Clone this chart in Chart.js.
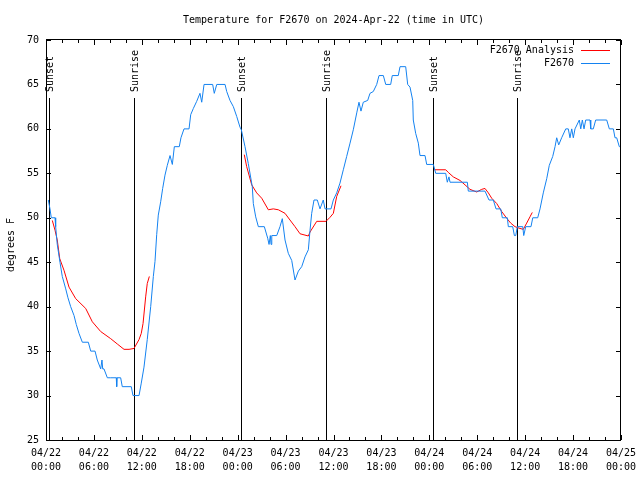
<!DOCTYPE html>
<html>
<head>
<meta charset="utf-8">
<script src="https://cdn.jsdelivr.net/npm/chart.js@4.4.1/dist/chart.umd.min.js"></script>
<style>
  body { margin: 0; background: #fff; }
  canvas { display: block; }
</style>
</head>
<body>
<canvas id="myChart" width="640" height="480"></canvas>
<script>
// hours since 04/22 00:00 UTC and temperature in degrees F
const blueHours = [0.29, 0.50, 0.66, 1.13, 1.21, 1.41, 1.75, 2.04, 2.47, 2.75, 3.09, 3.51, 3.79, 4.13, 4.55, 5.30, 5.60, 6.14, 6.42, 6.85,
  7.01, 7.10, 7.26, 7.68, 8.10, 8.80, 8.85, 8.90, 9.35, 9.55, 10.68, 10.89, 11.65, 11.93, 12.27, 12.68, 13.11, 13.44, 13.65, 13.86,
  14.06, 14.36, 14.61, 14.90, 15.19, 15.53, 15.82, 16.07, 16.69, 16.90, 17.28, 17.91, 18.12, 18.45, 18.87, 19.28, 19.50, 19.79, 20.87, 21.07,
  21.38, 22.42, 22.63, 23.04, 23.46, 23.88, 24.29, 24.46, 24.92, 25.33, 25.83, 25.96, 26.26, 26.59, 27.34, 27.76, 27.93, 28.09, 28.18, 28.27,
  28.89, 29.30, 29.59, 29.93, 30.34, 30.77, 31.18, 31.60, 32.02, 32.43, 32.85, 33.06, 33.27, 33.56, 33.97, 34.31, 34.72, 34.94, 35.69, 35.98,
  36.40, 36.81, 37.23, 37.65, 38.07, 38.48, 38.91, 39.19, 39.44, 39.73, 40.28, 40.57, 40.98, 41.41, 41.70, 42.24, 42.54, 43.16, 43.36, 44.11,
  44.33, 45.04, 45.29, 45.58, 45.92, 45.99, 46.29, 46.62, 46.83, 47.46, 47.67, 48.50, 48.80, 50.05, 50.25, 50.46, 50.59, 52.76, 52.88, 54.97,
  55.47, 56.01, 56.35, 56.94, 57.14, 57.77, 57.89, 58.44, 58.65, 58.82, 59.02, 59.70, 59.82, 60.07, 60.73, 60.95, 61.57, 61.86, 62.27, 62.70,
  63.02, 63.45, 63.74, 63.95, 64.20, 64.57, 65.08, 65.40, 65.61, 65.83, 66.03, 66.24, 66.78, 66.96, 67.16, 67.37, 67.58, 68.12, 68.21, 68.53,
  68.83, 70.21, 70.54, 71.04, 71.25, 71.46, 71.79, 72.0];
const blueTemps = [52, 51, 50, 50, 49, 47, 45, 43.4, 42, 41, 40, 39, 38, 37, 36, 36, 35, 35, 34, 33,
  34, 33, 33, 32, 32, 32, 31, 32, 32, 31, 31, 30, 30, 31.4, 33.2, 36.3, 40, 43.4, 45.1, 48.1,
  50.3, 51.8, 53.3, 54.8, 55.9, 57, 56, 58, 58, 59, 60, 60, 61.6, 62.3, 63.1, 64, 63, 65, 65, 64,
  65, 65, 64.2, 63.2, 62.5, 61.4, 60.2, 59.9, 58, 56.1, 53.5, 51.6, 50.1, 49, 49, 47.7, 47, 48, 47, 48,
  48, 49, 49.9, 47.5, 46, 45.2, 43, 44, 44.5, 45.6, 46.4, 48.6, 50.5, 52, 52, 51, 52, 51, 51, 52,
  52.8, 53.9, 55.4, 56.9, 58.4, 59.9, 61.8, 63, 62, 63, 63.2, 64, 64.2, 65, 66, 66, 65, 65, 66, 66,
  67, 67, 65, 64.7, 63.2, 61, 59.5, 58.4, 57, 57, 56, 56, 55, 55, 54, 54.6, 54, 54, 53, 53,
  52, 52, 51, 51, 50, 50, 49, 49, 48, 48, 49, 49, 48, 49, 49, 50, 50, 51, 52.8, 54.4,
  55.9, 56.9, 58, 59, 58.2, 59, 60, 60, 59, 60, 59, 60, 61, 60, 61, 60, 61, 61, 60, 60,
  61, 61, 60, 60, 59, 59, 58, 58];

// analysis (three segments, null breaks the line)
const redHours = [0.79, 1.13, 1.41, 1.72, 2.25, 2.88, 3.72, 4.97, 5.80, 6.85, 8.10, 8.93, 9.77, 10.40, 11.02, 11.65, 11.93, 12.15, 12.48, 12.68, 12.94,
  18.0,
  24.83, 25.13, 25.76, 26.38, 27.01, 27.84, 28.46, 29.09, 29.93, 30.55, 31.18, 31.81, 32.85, 33.06, 33.90, 35.06, 35.56, 35.98, 36.40, 36.94,
  42.0,
  48.62, 50.05, 50.38, 51.00, 51.84, 52.47, 53.09, 53.93, 54.56, 54.97, 55.39, 55.81, 56.44, 57.06, 57.69, 58.19, 58.73, 59.35, 59.77, 60.19, 60.60, 60.89];
const redTemps = [49.7, 48.6, 47.5, 45.4, 44.1, 42.2, 40.9, 39.8, 38.3, 37.2, 36.4, 35.8, 35.2, 35.2, 35.3, 36.3, 37.0, 38.1, 41.1, 42.6, 43.4,
  null,
  57.1, 55.75, 53.7, 52.8, 52.2, 50.9, 51.0, 50.9, 50.5, 49.75, 49.0, 48.2, 47.95, 48.4, 49.6, 49.6, 50.05, 50.5, 52.4, 53.6,
  null,
  55.4, 55.4, 55.1, 54.6, 54.2, 53.7, 53.2, 52.9, 53.2, 53.3, 52.8, 52.2, 51.6, 50.7, 49.95, 49.4, 49.0, 48.8, 48.7, 49.4, 50.1, 50.6];

const sunLabels = ['Sunset', 'Sunrise', 'Sunset', 'Sunrise', 'Sunset', 'Sunrise'];
const sunHours = [0.42, 11.05, 24.45, 35.05, 48.48, 59.0];

const tickDates = ['04/22', '04/22', '04/22', '04/22', '04/23', '04/23', '04/23', '04/23', '04/24', '04/24', '04/24', '04/24', '04/25'];
const tickTimes = ['00:00', '06:00', '12:00', '18:00', '00:00', '06:00', '12:00', '18:00', '00:00', '06:00', '12:00', '18:00', '00:00'];

const seriesNames = ['F2670 Analysis', 'F2670'];
const seriesColors = ['#ff0000', '#1482f0'];

const FONT = '10px "DejaVu Sans Mono", monospace';

// cuadro, marcas y textos al estilo gnuplot
const gnuplotPlugin = {
    id: 'gnuplot',
    beforeDatasetsDraw: (chart) => {
        const ctx = chart.ctx;
        const a = chart.chartArea;
        const x = chart.scales.x;
        ctx.save();
        ctx.strokeStyle = '#000';
        ctx.fillStyle = '#000';
        ctx.lineWidth = 1;
        ctx.font = FONT;
        sunHours.forEach((h, i) => {
            const px = Math.round(x.getPixelForValue(h)) + 0.5;
            ctx.beginPath();
            ctx.moveTo(px, a.bottom);
            ctx.lineTo(px, 98);
            ctx.stroke();
            ctx.save();
            ctx.translate(px + 1, 92);
            ctx.rotate(-Math.PI / 2);
            ctx.textAlign = 'left';
            ctx.textBaseline = 'middle';
            ctx.fillText(sunLabels[i], 0, 0);
            ctx.restore();
        });
        ctx.restore();
    },
    afterDraw: (chart) => {
        const ctx = chart.ctx;
        const a = chart.chartArea;
        const x = chart.scales.x;
        const y = chart.scales.y;
        ctx.save();
        ctx.strokeStyle = '#000';
        ctx.fillStyle = '#000';
        ctx.lineWidth = 1;
        ctx.strokeRect(a.left + 0.5, a.top - 0.5, a.right - a.left - 1, a.bottom - a.top + 1);

        ctx.beginPath();
        for (let h = 0; h <= 72; h += 2) {
            const px = Math.round(x.getPixelForValue(h)) + 0.5;
            const len = h % 6 === 0 ? 5 : 3;
            ctx.moveTo(px, a.bottom); ctx.lineTo(px, a.bottom - len);
            ctx.moveTo(px, a.top); ctx.lineTo(px, a.top + len);
        }
        for (let t = 25; t <= 70; t += 5) {
            const py = Math.round(y.getPixelForValue(t)) + 0.5;
            ctx.moveTo(a.left, py); ctx.lineTo(a.left + 5, py);
            ctx.moveTo(a.right, py); ctx.lineTo(a.right - 5, py);
        }
        ctx.stroke();

        ctx.font = FONT;
        ctx.textBaseline = 'middle';
        ctx.textAlign = 'center';
        ctx.fillText('Temperature for F2670 on 2024-Apr-22 (time in UTC)', (a.left + a.right) / 2, 20);

        ctx.save();
        ctx.translate(11, 245);
        ctx.rotate(-Math.PI / 2);
        ctx.fillText('degrees F', 0, 0);
        ctx.restore();

        // leyenda
        ctx.textAlign = 'right';
        seriesNames.forEach((name, i) => {
            const ly = 50 + i * 13;
            ctx.fillStyle = '#000';
            ctx.fillText(name, 574, ly);
            ctx.strokeStyle = seriesColors[i];
            ctx.beginPath();
            ctx.moveTo(581, ly + 0.5);
            ctx.lineTo(610, ly + 0.5);
            ctx.stroke();
        });
        ctx.restore();
    }
};

const ctx = document.getElementById('myChart').getContext('2d');
new Chart(ctx, {
    type: 'scatter',
    data: {
        datasets: [{
            label: seriesNames[0],
            data: redHours.map((h, i) => ({ x: h, y: redTemps[i] })),
            showLine: true,
            spanGaps: false,
            borderColor: seriesColors[0],
            borderWidth: 1,
            pointRadius: 0,
            order: 1
        }, {
            label: seriesNames[1],
            data: blueHours.map((h, i) => ({ x: h, y: blueTemps[i] })),
            showLine: true,
            borderColor: seriesColors[1],
            borderWidth: 1,
            pointRadius: 0,
            order: 0
        }]
    },
    options: {
        responsive: false,
        animation: false,
        devicePixelRatio: 1,
        layout: { padding: { top: 40, right: 19, bottom: 0, left: 0 } },
        scales: {
            x: {
                type: 'linear',
                min: 0,
                max: 72,
                afterFit: (s) => { s.height = 40; s.paddingLeft = 0; s.paddingRight = 0; },
                afterBuildTicks: (s) => { s.ticks = tickDates.map((d, i) => ({ value: i * 6 })); },
                grid: { display: false, drawTicks: false },
                border: { display: false },
                ticks: {
                    autoSkip: false,
                    maxRotation: 0,
                    padding: 7,
                    color: '#000',
                    font: { family: '"DejaVu Sans Mono", monospace', size: 10, lineHeight: 1.35 },
                    callback: (v, i) => [tickDates[i], tickTimes[i]]
                }
            },
            y: {
                min: 25,
                max: 70,
                afterFit: (s) => { s.width = 46; s.paddingTop = 0; s.paddingBottom = 0; },
                grid: { display: false, drawTicks: false },
                border: { display: false },
                ticks: {
                    stepSize: 5,
                    padding: 7,
                    color: '#000',
                    font: { family: '"DejaVu Sans Mono", monospace', size: 10 }
                }
            }
        },
        plugins: {
            legend: { display: false },
            tooltip: { enabled: false },
            title: { display: false }
        }
    },
    plugins: [gnuplotPlugin]
});
</script>
</body>
</html>
